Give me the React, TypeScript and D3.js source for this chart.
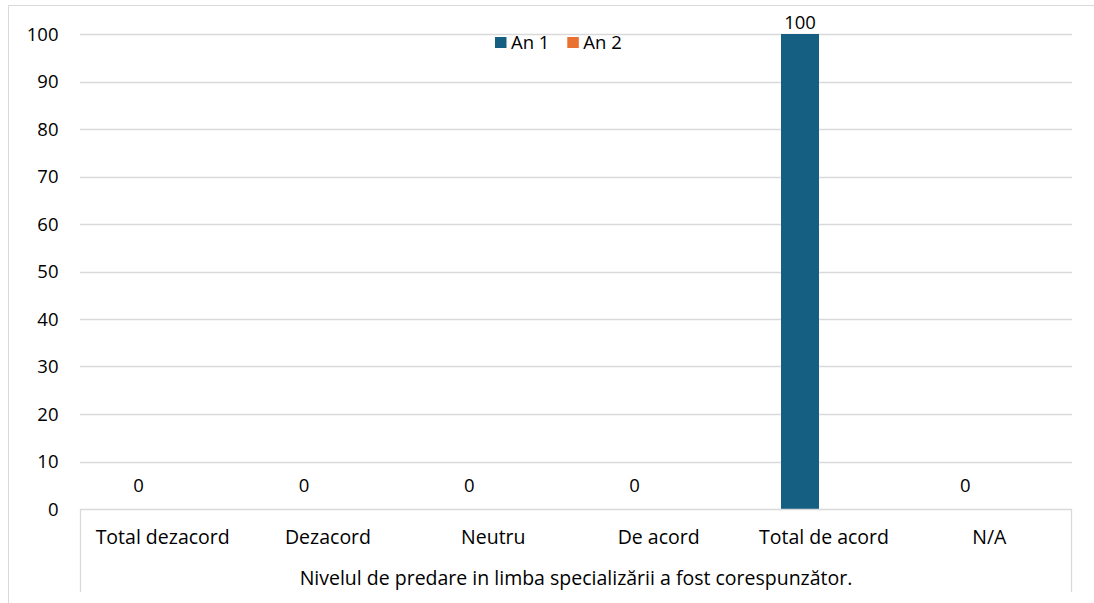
import React from "react";
import * as d3 from "d3";

const categories = ["Total dezacord", "Dezacord", "Neutru", "De acord", "Total de acord", "N/A"];
const seriesNames = ["An 1", "An 2"];
const an1: (number | null)[] = [0, 0, 0, 0, 100, 0];
const an2: (number | null)[] = [null, null, null, null, null, null];
const yTicks = [0, 10, 20, 30, 40, 50, 60, 70, 80, 90, 100];
const axisTitle = "Nivelul de predare in limba specializării a fost corespunzător.";
const colors = ["#156082", "#E97132"];

const W = 1094;
const H = 603;
const FONT = "'Open Sans', 'Liberation Sans', Arial, sans-serif";

export default function App() {
  const left = 80, right = 1072, top = 34, bottom = 509;
  const y = d3.scaleLinear().domain([0, 100]).range([bottom, top]);
  const x0 = d3.scaleBand<string>().domain(categories).range([left, right]).padding(0);
  const x1 = d3
    .scaleBand<string>()
    .domain(seriesNames)
    .range([0, x0.bandwidth()])
    .paddingInner(0.208)
    .paddingOuter(0.826);
  const data = [an1, an2];

  return (
    <svg
      width={W}
      height={H}
      style={{ position: "absolute", left: 0, top: 0, display: "block", background: "#fff" }}
      fontFamily={FONT}
    >
      <rect x={8.5} y={5.5} width={1090} height={600} fill="#fff" stroke="#d9d9d9" />
      {yTicks.map((t) => (
        <g key={t}>
          {t > 0 && (
            <line x1={left} x2={right} y1={Math.round(y(t)) + 0.5} y2={Math.round(y(t)) + 0.5} stroke="#d9d9d9" strokeWidth={1.3} />
          )}
          <text x={58.5} y={y(t) + 6.5} textAnchor="end" fontSize={18.5} fill="#000">
            {t}
          </text>
        </g>
      ))}
      {data.map((vals, si) =>
        vals.map((v, ci) =>
          v === null ? null : (
            <rect
              key={`b${si}-${ci}`}
              x={(x0(categories[ci]) ?? 0) + (x1(seriesNames[si]) ?? 0)}
              y={y(v)}
              width={x1.bandwidth()}
              height={bottom - y(v)}
              fill={colors[si]}
            />
          )
        )
      )}
      {data.map((vals, si) =>
        vals.map((v, ci) =>
          v === null ? null : (
            <text
              key={`l${si}-${ci}`}
              x={(x0(categories[ci]) ?? 0) + (x1(seriesNames[si]) ?? 0) + x1.bandwidth() / 2}
              y={v === 0 ? y(v) - 17 : y(v) - 5.5}
              textAnchor="middle"
              fontSize={18.5}
              fill="#000"
            >
              {v}
            </text>
          )
        )
      )}
      {/* category axis */}
      <line x1={left} x2={right} y1={bottom + 0.5} y2={bottom + 0.5} stroke="#d9d9d9" strokeWidth={1.3} />
      <line x1={left + 0.5} x2={left + 0.5} y1={bottom} y2={592} stroke="#d9d9d9" strokeWidth={1.3} />
      <line x1={right - 0.5} x2={right - 0.5} y1={bottom} y2={592} stroke="#d9d9d9" strokeWidth={1.3} />
      {categories.map((c) => (
        <text key={c} x={(x0(c) ?? 0) + x0.bandwidth() / 2} y={543.5} textAnchor="middle" fontSize={19.5} fill="#000">
          {c}
        </text>
      ))}
      <text x={(left + right) / 2} y={584.5} textAnchor="middle" fontSize={19.5} fill="#000">
        {axisTitle}
      </text>
      {/* legend */}
      {seriesNames.map((s, i) => (
        <g key={s} transform={`translate(${495 + i * 72.3},37)`}>
          <rect x={0} y={0} width={11.5} height={11} fill={colors[i]} />
          <text x={16} y={11.5} fontSize={18.5} fill="#000">
            {s}
          </text>
        </g>
      ))}
    </svg>
  );
}
